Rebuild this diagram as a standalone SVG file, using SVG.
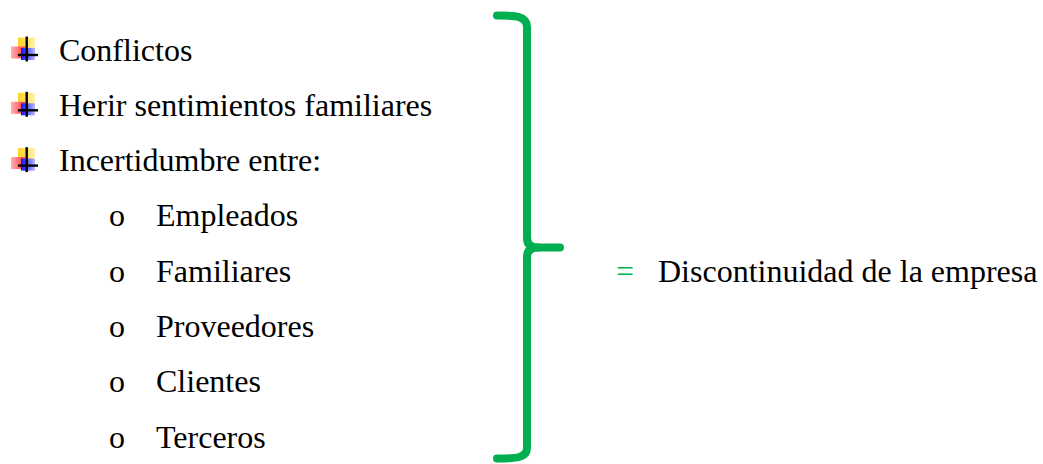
<svg xmlns="http://www.w3.org/2000/svg" width="1043" height="464" viewBox="0 0 1043 464">
  <style>
    .t { font-family: "Liberation Serif", "Times New Roman", serif; font-size: 32px; fill: #000; }
    .eq { font-family: "Liberation Serif", "Times New Roman", serif; font-size: 32px; fill: #00B050; }
    .brace { fill: none; stroke: #00B050; stroke-width: 8; stroke-linecap: round; stroke-linejoin: round; }
  </style>
  <defs>
    <linearGradient id="gy" x1="0" y1="0" x2="1" y2="0">
      <stop offset="0" stop-color="#FFD21F"/>
      <stop offset="1" stop-color="#FFF2B0"/>
    </linearGradient>
    <linearGradient id="gr" x1="0" y1="0" x2="1" y2="0">
      <stop offset="0" stop-color="#FFB0B0"/>
      <stop offset="1" stop-color="#FF3838"/>
    </linearGradient>
    <linearGradient id="gb" x1="0" y1="0" x2="1" y2="0">
      <stop offset="0" stop-color="#1010FF"/>
      <stop offset="1" stop-color="#B8B8FF"/>
    </linearGradient>
    <g id="icon">
      <rect x="18" y="-23" width="17" height="13" fill="url(#gy)"/>
      <rect x="11" y="-14" width="14" height="12" fill="url(#gr)"/>
      <rect x="21" y="-12.5" width="14" height="12" fill="url(#gb)"/>
      <line x1="26.7" y1="-24" x2="26.7" y2="1" stroke="#000" stroke-width="2.4"/>
      <line x1="18" y1="-5.5" x2="38" y2="-5.5" stroke="#000" stroke-width="2.4"/>
    </g>
  </defs>

  <g id="item-conflictos">
    <use href="#icon" y="60.5"/>
    <text class="t" x="59" y="60.5">Conflictos</text>
  </g>
  <g id="item-herir">
    <use href="#icon" y="115.8"/>
    <text class="t" x="59" y="115.8">Herir sentimientos familiares</text>
  </g>
  <g id="item-incertidumbre">
    <use href="#icon" y="171.1"/>
    <text class="t" x="59" y="171.1">Incertidumbre entre:</text>
  </g>
  <g id="sub-empleados">
    <text class="t" x="109" y="226.4">o</text>
    <text class="t" x="156" y="226.4">Empleados</text>
  </g>
  <g id="sub-familiares">
    <text class="t" x="109" y="281.7">o</text>
    <text class="t" x="156" y="281.7">Familiares</text>
  </g>
  <g id="sub-proveedores">
    <text class="t" x="109" y="337">o</text>
    <text class="t" x="156" y="337">Proveedores</text>
  </g>
  <g id="sub-clientes">
    <text class="t" x="109" y="392.3">o</text>
    <text class="t" x="156" y="392.3">Clientes</text>
  </g>
  <g id="sub-terceros">
    <text class="t" x="109" y="447.6">o</text>
    <text class="t" x="156" y="447.6">Terceros</text>
  </g>

  <g id="connectors">
    <path class="brace" d="M497,15.5 C516,15.5 527,16 527,27 L527,238 Q527,247.5 538,247.5 L560,247.5"/>
    <path class="brace" d="M538,247.5 Q527,247.5 527,257 L527,448 C527,458 516,458.5 497,458.5"/>
  </g>

  <g id="result">
    <text class="eq" x="616" y="281.7">=</text>
    <text class="t" x="658" y="281.7">Discontinuidad de la empresa</text>
  </g>
</svg>
